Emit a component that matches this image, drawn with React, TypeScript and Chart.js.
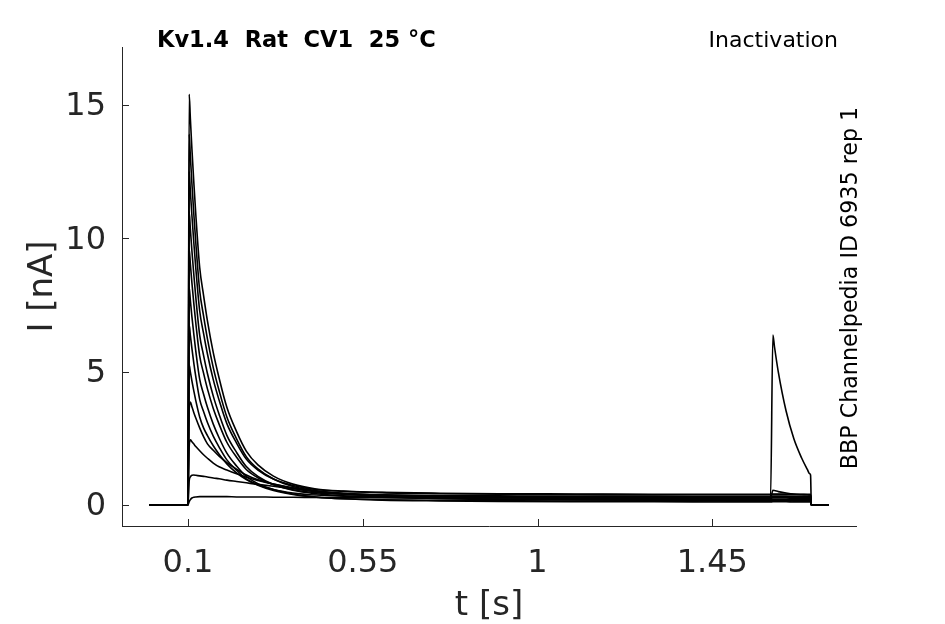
import { useEffect, useRef } from "react"
import { Chart, registerables } from "chart.js"

Chart.register(...registerables)

// sample times of the sweeps [s]
const timeS = [
  0, 0.1, 0.103, 0.106, 0.11, 0.115, 0.12, 0.13, 0.14, 0.15, 0.165, 0.18, 0.2, 0.225, 0.25, 0.28, 0.32, 0.37,
  0.43, 0.5, 0.6, 0.75, 0.9, 1.1, 1.3, 1.5, 1.6, 1.606, 1.61, 1.62, 1.64, 1.66, 1.68, 1.695, 1.7, 1.703, 1.705,
  1.75,
]

// current of each sweep [nA], one value per sample time
const sweep1 = [0, 0, 15.4, 14.49, 13.35, 12.07, 10.9, 8.91, 7.86, 6.9, 5.71, 4.76, 3.66, 2.75, 2.02, 1.5, 1.08, 0.78, 0.6, 0.52, 0.46, 0.42, 0.4, 0.39, 0.38, 0.38, 0.38, 0.39, 0.39, 0.39, 0.39, 0.38, 0.38, 0.38, 0.38, 0.38, 0, 0]
const sweep2 = [0, 0, 13.9, 13.08, 12.05, 10.89, 9.84, 8.04, 7.09, 6.23, 5.15, 4.29, 3.3, 2.48, 1.81, 1.35, 0.97, 0.69, 0.53, 0.44, 0.38, 0.33, 0.31, 0.3, 0.29, 0.28, 0.27, 0.28, 0.28, 0.28, 0.28, 0.27, 0.27, 0.27, 0.27, 0.27, 0, 0]
const sweep3 = [0, 0, 12.5, 11.77, 10.85, 9.82, 8.88, 7.28, 6.43, 5.66, 4.7, 3.93, 3.05, 2.32, 1.72, 1.31, 0.97, 0.73, 0.58, 0.51, 0.47, 0.44, 0.42, 0.41, 0.4, 0.4, 0.4, 0.41, 0.41, 0.41, 0.41, 0.4, 0.4, 0.4, 0.4, 0.4, 0, 0]
const sweep4 = [0, 0, 11.0, 10.35, 9.53, 8.62, 7.79, 6.37, 5.61, 4.93, 4.08, 3.4, 2.61, 1.97, 1.44, 1.07, 0.77, 0.55, 0.42, 0.34, 0.28, 0.23, 0.2, 0.19, 0.18, 0.17, 0.17, 0.18, 0.18, 0.18, 0.18, 0.17, 0.17, 0.17, 0.17, 0.17, 0, 0]
const sweep5 = [0, 0, 9.6, 9.04, 8.33, 7.54, 6.82, 5.59, 4.94, 4.35, 3.62, 3.03, 2.35, 1.79, 1.33, 1.02, 0.76, 0.57, 0.46, 0.4, 0.36, 0.32, 0.31, 0.3, 0.29, 0.28, 0.28, 0.29, 0.29, 0.29, 0.29, 0.28, 0.28, 0.28, 0.28, 0.28, 0, 0]
const sweep6 = [0, 0, 8.15, 7.67, 7.06, 6.39, 5.77, 4.72, 4.16, 3.66, 3.03, 2.52, 1.94, 1.46, 1.07, 0.8, 0.58, 0.41, 0.3, 0.23, 0.18, 0.15, 0.13, 0.12, 0.12, 0.11, 0.11, 0.12, 0.12, 0.12, 0.12, 0.11, 0.11, 0.11, 0.11, 0.11, 0, 0]
const sweep7 = [0, 0, 6.75, 6.36, 5.87, 5.31, 4.81, 3.96, 3.5, 3.09, 2.58, 2.17, 1.69, 1.3, 0.98, 0.76, 0.58, 0.45, 0.37, 0.33, 0.3, 0.28, 0.27, 0.26, 0.26, 0.25, 0.25, 0.26, 0.26, 0.26, 0.26, 0.25, 0.25, 0.25, 0.25, 0.25, 0, 0]
const sweep8 = [0, 0, 5.25, 4.99, 4.65, 4.27, 3.91, 3.3, 2.89, 2.6, 2.22, 1.9, 1.54, 1.2, 0.95, 0.74, 0.54, 0.39, 0.29, 0.23, 0.19, 0.17, 0.16, 0.15, 0.15, 0.14, 0.14, 0.15, 0.15, 0.15, 0.15, 0.14, 0.14, 0.14, 0.14, 0.14, 0, 0]
const sweep9 = [0, 0, 3.6, 3.86, 3.68, 3.46, 3.26, 2.89, 2.56, 2.29, 2.05, 1.83, 1.59, 1.34, 1.12, 0.94, 0.78, 0.62, 0.5, 0.42, 0.37, 0.35, 0.34, 0.33, 0.33, 0.32, 0.32, 0.33, 0.33, 0.33, 0.33, 0.32, 0.32, 0.32, 0.32, 0.32, 0, 0]
const sweep10 = [0, 0, 2.2, 2.44, 2.37, 2.28, 2.19, 2.03, 1.88, 1.75, 1.57, 1.43, 1.31, 1.17, 1.04, 0.92, 0.78, 0.64, 0.52, 0.41, 0.32, 0.25, 0.22, 0.21, 0.2, 0.19, 0.19, 0.2, 0.2, 0.2, 0.2, 0.19, 0.19, 0.19, 0.19, 0.19, 0, 0]
const sweep11 = [0, 0, 0.9, 1.05, 1.11, 1.12, 1.11, 1.09, 1.07, 1.05, 1.01, 0.98, 0.93, 0.88, 0.83, 0.77, 0.7, 0.62, 0.5, 0.43, 0.36, 0.3, 0.27, 0.26, 0.25, 0.24, 0.24, 0.55, 0.54, 0.5, 0.45, 0.41, 0.39, 0.38, 0.37, 0.37, 0, 0]
const sweep12 = [0, 0, 0.12, 0.2, 0.26, 0.29, 0.3, 0.31, 0.31, 0.31, 0.31, 0.31, 0.31, 0.3, 0.3, 0.3, 0.29, 0.29, 0.28, 0.28, 0.27, 0.26, 0.26, 0.25, 0.25, 0.25, 0.25, 6.37, 5.94, 4.98, 3.52, 2.48, 1.76, 1.32, 1.18, 1.12, 0, 0]

const sweeps = [sweep1, sweep2, sweep3, sweep4, sweep5, sweep6, sweep7, sweep8, sweep9, sweep10, sweep11, sweep12]

const xTicks = [0.1, 0.55, 1, 1.45]
const xTickLabels = ["0.1", "0.55", "1", "1.45"]
const yTicks = [0, 5, 10, 15]

const titleText = "Kv1.4  Rat  CV1  25 °C"
const protocolText = "Inactivation"
const sourceText = "BBP Channelpedia ID 6935 rep 1"

const axisColor = "#262626"

// inward tick marks and the free texts round the plot
const overlayPlugin = {
  id: "overlay",
  afterDraw(chart: Chart) {
    const { ctx, chartArea, scales } = chart
    const tickLen = 7
    ctx.save()
    ctx.strokeStyle = axisColor
    ctx.lineWidth = 1
    ctx.beginPath()
    scales.x.ticks.forEach((t) => {
      const px = Math.round(scales.x.getPixelForValue(t.value)) + 0.5
      ctx.moveTo(px, chartArea.bottom)
      ctx.lineTo(px, chartArea.bottom - tickLen)
    })
    scales.y.ticks.forEach((t) => {
      const py = Math.round(scales.y.getPixelForValue(t.value)) + 0.5
      ctx.moveTo(chartArea.left, py)
      ctx.lineTo(chartArea.left + tickLen, py)
    })
    ctx.stroke()

    ctx.fillStyle = "#000"
    ctx.textBaseline = "alphabetic"
    ctx.font = "bold 22.5px 'DejaVu Sans'"
    ctx.textAlign = "left"
    ctx.fillText(titleText, 157, 47)
    ctx.font = "22px 'DejaVu Sans'"
    ctx.textAlign = "right"
    ctx.fillText(protocolText, 838, 47)

    ctx.translate(857, 288)
    ctx.rotate(-Math.PI / 2)
    ctx.textAlign = "center"
    ctx.font = "22.2px 'DejaVu Sans'"
    ctx.fillText(sourceText, 0, 0)
    ctx.restore()
  },
}

export default function App() {
  const chartRef = useRef<HTMLCanvasElement>(null)
  const chartInstance = useRef<Chart | null>(null)

  useEffect(() => {
    if (!chartRef.current) return

    if (chartInstance.current) {
      chartInstance.current.destroy()
    }

    Chart.defaults.font.family = "'DejaVu Sans', sans-serif"

    const ctx = chartRef.current.getContext("2d")
    if (ctx) {
      chartInstance.current = new Chart(ctx, {
        type: "line",
        data: {
          datasets: sweeps.map((values, i) => ({
            label: "sweep " + (i + 1),
            data: values.map((v, j) => ({ x: timeS[j], y: v })),
            borderColor: "#000",
            borderWidth: 1.6,
            pointRadius: 0,
            fill: false,
            cubicInterpolationMode: "monotone" as const,
          })),
        },
        options: {
          animation: false,
          responsive: true,
          maintainAspectRatio: false,
          layout: { padding: { top: 47, right: 89, left: 0, bottom: 0 } },
          plugins: {
            legend: { display: false },
            tooltip: { enabled: false },
          },
          scales: {
            x: {
              type: "linear",
              min: -0.07,
              max: 1.82,
              afterBuildTicks: (scale) => {
                scale.ticks = xTicks.map((v) => ({ value: v }))
              },
              afterFit: (scale) => {
                scale.height = 98
              },
              grid: { display: false, drawTicks: false },
              border: { display: true, color: axisColor, width: 1 },
              ticks: {
                autoSkip: false,
                maxRotation: 0,
                padding: 18,
                color: axisColor,
                font: { size: 32 },
                callback: (value) => xTickLabels[xTicks.indexOf(Number(value))],
              },
              title: {
                display: true,
                text: "t [s]",
                color: axisColor,
                font: { size: 34 },
                padding: { top: 0, bottom: -3 },
              },
            },
            y: {
              type: "linear",
              min: -0.79,
              max: 17.17,
              afterBuildTicks: (scale) => {
                scale.ticks = yTicks.map((v) => ({ value: v }))
              },
              afterFit: (scale) => {
                scale.width = 122
              },
              grid: { display: false, drawTicks: false },
              border: { display: true, color: axisColor, width: 1 },
              ticks: {
                autoSkip: false,
                padding: 16,
                labelOffset: 2,
                color: axisColor,
                font: { size: 32 },
                callback: (value) => String(value),
              },
              title: {
                display: true,
                text: "I [nA]",
                color: axisColor,
                font: { size: 34 },
                padding: { top: 23, bottom: 0 },
              },
            },
          },
        },
        plugins: [overlayPlugin],
      })
    }

    return () => {
      if (chartInstance.current) {
        chartInstance.current.destroy()
        chartInstance.current = null
      }
    }
  }, [])

  return (
    <div style={{ position: "absolute", left: 0, top: 0, width: 945, height: 624, background: "#fff" }}>
      <canvas ref={chartRef} />
    </div>
  )
}
